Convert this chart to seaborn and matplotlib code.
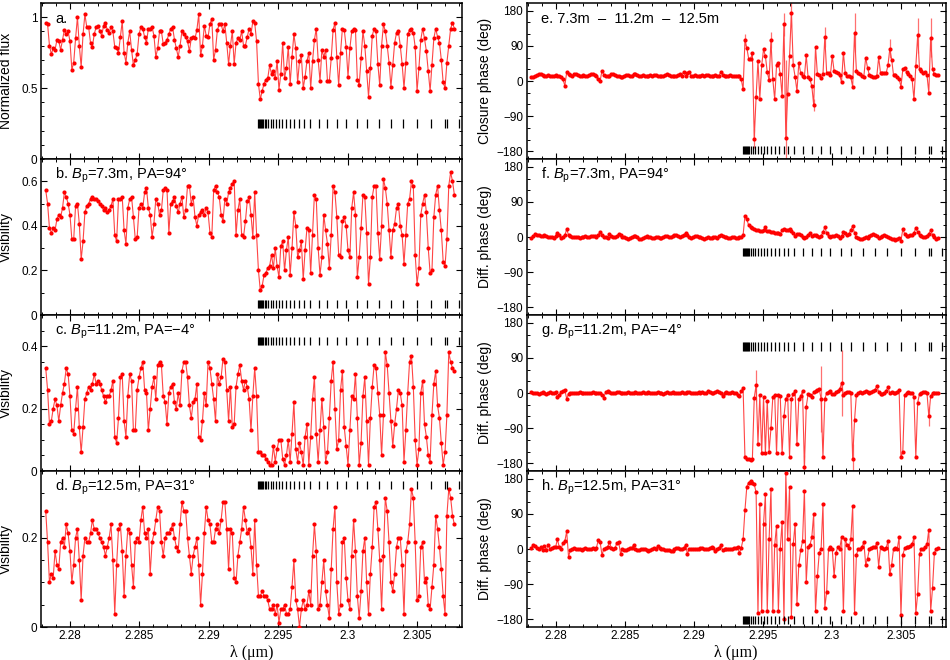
import numpy as np
import matplotlib
matplotlib.use("Agg")
import matplotlib.pyplot as plt
from matplotlib.ticker import MultipleLocator, FuncFormatter
import seaborn as sns

sns.set_theme(style="ticks", rc={"axes.edgecolor": "black", "xtick.color": "black",
                                 "ytick.color": "black", "text.color": "black",
                                 "axes.labelcolor": "black"})
plt.rcParams['font.family'] = ['Liberation Sans', 'DejaVu Sans']
plt.rcParams['mathtext.fontset'] = 'custom'
plt.rcParams['mathtext.rm'] = 'Liberation Sans'
plt.rcParams['mathtext.it'] = 'Liberation Sans:italic'

# spectral channels (um)
wl_start, wl_end, n_chan = 2.27825, 2.30769, 220

# CO (2-0) line positions marked with the black bars
co_lines = [2.29357, 2.29364, 2.29371, 2.29378, 2.29386, 2.29393, 2.29403, 2.29415,
            2.29429, 2.29446, 2.29465, 2.29484, 2.29506, 2.29530, 2.29556, 2.29585,
            2.29616, 2.29650, 2.29686, 2.29729, 2.29791, 2.29854, 2.29921, 2.29988,
            2.30065, 2.30142, 2.30224, 2.30310, 2.30401, 2.30498, 2.30599, 2.30702,
            2.30714, 2.30800]

# normalized flux (x100)
flux = [96, 95, 80, 74, 78, 77, 84, 83, 77, 84,
        91, 88, 90, 83, 63, 68, 85, 100, 80, 65,
        88, 102, 93, 93, 82, 79, 88, 93, 94, 90,
        87, 94, 96, 91, 89, 93, 90, 79, 78, 75,
        86, 97, 75, 68, 82, 90, 77, 66, 70, 74,
        88, 93, 92, 86, 82, 92, 92, 93, 87, 72,
        78, 90, 90, 81, 82, 84, 88, 92, 93, 84,
        78, 72, 80, 90, 88, 86, 83, 76, 85, 86,
        85, 91, 102, 73, 80, 94, 87, 86, 95, 99,
        70, 77, 91, 95, 95, 90, 95, 82, 67, 80,
        90, 67, 82, 85, 84, 90, 80, 80, 86, 92,
        88, 97, 96, 83, 53, 42, 48, 53, 56, 57,
        66, 60, 62, 57, 69, 49, 60, 82, 57, 64,
        79, 53, 72, 88, 78, 54, 69, 73, 50, 58,
        69, 75, 50, 69, 84, 92, 70, 55, 77, 72,
        77, 55, 55, 71, 91, 96, 72, 52, 75, 92,
        91, 79, 58, 78, 90, 92, 91, 56, 52, 71,
        90, 80, 62, 44, 64, 87, 92, 90, 67, 52,
        80, 95, 90, 80, 68, 51, 66, 82, 89, 90,
        80, 67, 50, 68, 88, 91, 92, 89, 79, 48,
        64, 84, 92, 85, 76, 62, 48, 66, 85, 92,
        86, 82, 70, 54, 50, 68, 80, 92, 96, 92]

# visibilities (x100)
vis_73 = [56, 50, 39, 37, 39, 38, 43, 45, 44, 48,
          55, 53, 50, 45, 34, 34, 49, 50, 41, 25,
          33, 46, 49, 50, 52, 53, 52, 52, 51, 50,
          49, 47, 48, 46, 47, 49, 52, 36, 33, 52,
          52, 53, 38, 32, 48, 52, 53, 44, 34, 35,
          48, 50, 48, 55, 57, 48, 45, 35, 41, 52,
          50, 45, 47, 56, 57, 56, 37, 50, 51, 53,
          49, 46, 50, 53, 44, 47, 58, 58, 50, 53,
          44, 40, 45, 46, 47, 45, 48, 46, 37, 35,
          56, 58, 55, 53, 45, 42, 52, 50, 55, 57,
          59, 60, 36, 47, 52, 36, 35, 42, 51, 53,
          45, 35, 55, 36, 20, 11, 13, 18, 19, 21,
          22, 27, 21, 30, 22, 17, 31, 33, 20, 29,
          35, 18, 30, 46, 40, 26, 29, 33, 16, 29,
          39, 38, 19, 36, 54, 52, 30, 18, 26, 45,
          38, 32, 21, 36, 58, 55, 44, 27, 26, 42,
          44, 40, 29, 26, 48, 55, 45, 17, 26, 39,
          54, 53, 37, 14, 26, 53, 58, 58, 37, 25,
          40, 61, 57, 50, 38, 26, 38, 41, 48, 50,
          40, 36, 23, 36, 50, 52, 60, 58, 27, 14,
          21, 45, 50, 54, 46, 30, 19, 20, 44, 54,
          58, 47, 38, 24, 22, 34, 58, 64, 60, 54]

vis_112 = [33, 26, 15, 16, 20, 23, 21, 16, 21, 25,
           28, 33, 31, 24, 13, 12, 20, 27, 14, 6,
           14, 23, 25, 27, 26, 28, 31, 28, 29, 28,
           26, 24, 22, 24, 24, 26, 29, 11, 9, 17,
           30, 31, 16, 11, 24, 31, 29, 13, 13, 26,
           30, 33, 35, 26, 25, 13, 20, 27, 30, 23,
           34, 35, 34, 24, 22, 15, 25, 27, 28, 22,
           20, 25, 21, 32, 35, 35, 30, 21, 17, 22,
           23, 28, 11, 10, 16, 25, 21, 35, 33, 28,
           23, 16, 31, 28, 30, 36, 35, 26, 16, 27,
           14, 15, 27, 31, 34, 29, 26, 29, 27, 23,
           13, 24, 33, 24, 6, 6, 5, 5, 4, 3,
           2, 2, 8, 3, 7, 10, 10, 4, 2, 5,
           10, 3, 12, 22, 7, 3, 9, 6, 2, 11,
           15, 2, 11, 23, 30, 12, 3, 13, 23, 14,
           3, 6, 17, 29, 35, 20, 7, 10, 26, 32,
           14, 8, 2, 13, 24, 23, 31, 17, 2, 9,
           24, 30, 16, 2, 17, 27, 34, 33, 25, 18,
           5, 18, 38, 34, 25, 16, 8, 15, 20, 26,
           25, 21, 3, 13, 25, 35, 37, 27, 10, 2,
           7, 25, 29, 15, 11, 5, 3, 18, 28, 32,
           21, 17, 9, 2, 6, 18, 38, 35, 33, 32]

vis_125 = [26, 19, 10, 12, 11, 17, 14, 13, 19, 20,
           18, 23, 21, 17, 10, 14, 20, 22, 15, 6,
           16, 20, 19, 19, 21, 24, 22, 22, 21, 20,
           19, 18, 16, 18, 20, 23, 15, 3, 14, 22,
           23, 17, 7, 16, 22, 21, 14, 9, 19, 20,
           19, 24, 27, 21, 20, 22, 12, 19, 21, 24,
           27, 26, 19, 16, 20, 21, 21, 22, 23, 20,
           18, 17, 23, 28, 26, 26, 20, 16, 12, 16,
           18, 20, 14, 5, 12, 21, 27, 24, 23, 19,
           19, 22, 23, 21, 24, 28, 28, 22, 13, 22,
           21, 11, 10, 16, 19, 22, 27, 24, 21, 22,
           18, 12, 24, 14, 7, 7, 8, 7, 7, 6,
           4, 4, 5, 3, 5, 1, 4, 4, 5, 3,
           3, 4, 9, 15, 6, 4, 0, 4, 6, 4,
           5, 8, 5, 16, 23, 17, 4, 5, 10, 15,
           8, 5, 2, 13, 22, 27, 10, 3, 5, 19,
           20, 11, 6, 4, 16, 24, 17, 7, 2, 8,
           17, 20, 10, 3, 12, 18, 27, 28, 22, 15,
           4, 16, 29, 26, 19, 10, 8, 12, 18, 20,
           20, 14, 3, 17, 19, 23, 31, 29, 19, 6,
           7, 18, 19, 10, 11, 5, 4, 9, 14, 25,
           22, 18, 13, 7, 3, 25, 31, 29, 25, 23]

# closure phase (deg)
cphase = [10, 11, 14, 15, 17, 18, 16, 14, 13, 15,
          14, 13, 14, 15, 12, 14, 10, 4, -12, 22,
          18, 15, 14, 17, 19, 16, 13, 14, 15, 14,
          13, 15, 17, 18, 16, 12, 5, 0, 26, 16,
          13, 12, 14, 17, 19, 16, 14, 13, 9, 11,
          14, 16, 15, 13, 14, 17, 18, 15, 12, 14,
          15, 13, 12, 14, 15, 14, 16, 15, 13, 14,
          12, 13, 15, 17, 15, 14, 13, 12, 14, 15,
          17, 14, 24, 12, 20, 22, 14, 13, 15, 14,
          12, 13, 15, 14, 16, 15, 13, 12, 14, 15,
          13, 14, 22, 16, 13, 12, 14, 15, 13, 14,
          13, 12, 14, 4, -21, 105, 85, 57, 57, 71,
          -148, -40, 51, -45, 40, 81, 64, 23, 2, 105,
          4, -47, 40, 47, 17, -38, 145, -145, -34, 64,
          175, 40, 11, -26, 47, 20, 13, 11, 66, 9,
          4, -13, -61, 88, 17, 15, 8, 17, 113, 21,
          21, 15, 64, 26, 23, 20, 15, -3, 73, 20,
          13, 13, 9, -15, 124, 26, 20, 17, 13, 11,
          60, 34, 15, 13, 11, 9, 13, 61, 20, 21,
          20, 20, 40, 83, 55, 15, 15, 11, 6, -15,
          30, 34, 23, 17, 13, 4, -47, 38, 117, 30,
          26, 21, 23, 15, -30, 111, 30, 17, 15, 15]
cphase_err_idx = [115, 120, 129, 136, 137, 140, 152, 158, 174, 193, 208, 215]
cphase_err = [15, 25, 20, 30, 200, 35, 15, 25, 50, 25, 45, 50]

# differential phases (deg)
dphi_73 = [-3, 2, 8, 6, 5, 3, 2, 4, 2, 1,
           0, -1, -2, 3, 11, 5, -2, 1, 4, 20,
           5, 2, 1, 0, 0, -1, -2, 0, 1, 2,
           1, 0, 2, 3, 2, 1, 4, 13, 5, 0,
           -1, -2, 8, 3, 1, 0, 2, 8, 5, 1,
           -1, -3, -4, -2, 0, 2, 3, -1, -4, -5,
           -3, 0, 2, 1, -1, -3, -2, 1, 0, -2,
           -3, -1, 2, 3, 1, 0, 3, 5, 6, 2,
           0, 3, 5, 9, 4, 0, -2, 0, 2, 3,
           1, -1, -3, -4, -2, 0, -3, -2, 1, 0,
           -2, 3, 6, 2, 0, -1, -3, -2, 0, -1,
           -3, -2, -1, 0, 5, 55, 45, 30, 25, 22,
           20, 18, 17, 15, 16, 17, 25, 15, 15, 13,
           12, 11, 10, 9, 8, 18, 20, 19, 18, 20,
           15, 10, 2, 8, 8, 4, 0, -2, 1, 5,
           10, 3, 4, 5, 2, 0, 3, 12, 25, 10,
           3, 0, 2, 3, 5, 2, -2, 2, 12, 10,
           5, 8, 18, 28, 10, 0, -3, -5, -4, -3,
           0, -2, 2, 5, 8, 6, 3, -2, 0, 3,
           5, 3, 0, -3, -5, -6, -8, -5, -3, -10,
           20, 8, 2, 3, 5, 6, 10, 24, 12, 5,
           2, 0, 1, 3, 8, 17, 5, 0, -5, -3]

dphi_112 = [2, -1, 0, 1, -2, 0, 2, -1, -3, 0,
            2, 1, -1, 3, -10, -5, 3, 5, 8, -15,
            -2, 0, 1, 0, -1, 1, 2, 0, 1, 0,
            -1, 0, 1, 2, 0, -1, 1, 0, -5, -12,
            3, 5, 2, 0, 1, -1, 2, 3, 1, 0,
            -1, 0, 2, 1, 0, 1, 3, 0, -1, 1,
            2, 0, 1, 3, 1, 0, -1, 0, 2, 1,
            0, -3, 1, 2, 0, 1, 3, 1, 0, -1,
            1, 2, 0, 1, 3, 2, 0, -1, 1, 0,
            2, 1, 3, 0, 1, 4, 2, 1, 0, 2,
            5, 3, 0, -8, 1, 2, 0, 1, 3, 1,
            0, -5, -8, 5, 12, -165, -168, -170, -172, -168,
            -12, 20, -130, -5, -155, -10, -155, -20, -150, -90,
            -10, -5, -155, -5, -8, -155, -60, -15, -5, -165,
            -15, -2, 5, -130, -15, -8, 5, -190, -35, -3,
            -5, -10, 3, 5, 8, 10, -15, -165, -15, 0,
            3, 5, -3, -3, 2, 5, 10, 25, -5, 0,
            3, 2, 0, -170, -70, -5, 0, 2, 1, 3,
            5, 3, 0, 2, 5, 8, 18, 3, -2, -3,
            0, 5, 15, 0, 2, 1, 0, 3, 8, -165,
            -150, -5, 0, 2, 1, 0, -10, -165, -25, -2,
            0, 2, 3, 1, -60, -8, 0, 1, 0, 0]
dphi_112_err_idx = [121, 147, 156, 167, 173, 214]
dphi_112_err = [40, 30, 85, 85, 40, 25]

dphi_125 = [3, 10, 8, 3, 0, 5, -3, 8, -3, 10,
            0, 3, 5, 4, 25, 5, 0, 15, 20, 45,
            -20, -3, 0, 2, -1, 0, 1, -2, 0, 2,
            1, 0, -1, 2, 0, 3, 22, 18, -15, 0,
            3, 5, 18, 3, 0, 2, 15, 18, -12, 0,
            -2, -3, 0, 2, 3, 10, 0, -2, -3, -1,
            0, 1, -2, -5, -3, 0, 2, 0, 8, 2,
            0, -1, -3, -2, -3, -5, -4, 0, 3, 2,
            1, 0, 3, 10, -12, 0, -1, 0, 1, 0,
            -1, 2, 3, 1, 0, -1, 2, 5, 2, -5,
            0, 3, 10, -3, -1, 0, 1, -1, 0, 2,
            3, 5, -10, 3, 25, 100, 160, 170, 175, 168,
            166, 145, -165, 115, -160, 65, 140, -160, 25, 155,
            -160, 10, 60, -160, 0, 70, -180, 195, 25, 160,
            -175, 12, 65, -140, -40, -3, 20, 150, -85, 5,
            10, 30, 90, -160, -70, -10, 0, 115, -150, -110,
            0, 5, 0, -70, -10, 5, 0, 30, -160, 25,
            10, 3, 25, 110, -165, -15, 0, 0, 5, 18,
            -40, -25, 0, 3, 5, 5, 15, -45, 5, 3,
            0, 2, 20, -65, -40, 0, 2, 0, 30, -170,
            -15, 2, 5, 5, 8, 12, 30, -165, -115, -12,
            0, 0, 5, 12, 50, -160, -100, -10, 0, 3]

wl = np.linspace(wl_start, wl_end, n_chan)

# (values, scale, ylim, major, minor, ylabel, panel text, CO bar range)
left_panels = [
    (flux, 100, (0, 1.1), 0.5, 0.1, "Normalized flux", "a.", (0.22, 0.28)),
    (vis_73, 100, (0, 0.7), 0.2, 0.1, "Visibility",
     "b. $B_\\mathrm{p}$=7.3m, PA=94°", (0.03, 0.068)),
    (vis_112, 100, (0, 0.5), 0.2, 0.05, "Visibility",
     "c. $B_\\mathrm{p}$=11.2m, PA=\u22124°", (0.405, 0.43)),
    (vis_125, 100, (0, 0.35), 0.2, 0.05, "Visibility",
     "d. $B_\\mathrm{p}$=12.5m, PA=31°", (0.309, 0.328)),
]
right_panels = [
    (cphase, 1, (-200, 200), 90, 30, "Closure phase (deg)",
     "e. 7.3m  \u2013  11.2m  \u2013  12.5m", (-187, -166)),
    (dphi_73, 1, (-200, 200), 90, 30, "Diff. phase (deg)",
     "f. $B_\\mathrm{p}$=7.3m, PA=94°", (-48, -29)),
    (dphi_112, 1, (-200, 200), 90, 30, "Diff. phase (deg)",
     "g. $B_\\mathrm{p}$=11.2m, PA=\u22124°", (108, 130)),
    (dphi_125, 1, (-200, 200), 90, 30, "Diff. phase (deg)",
     "h. $B_\\mathrm{p}$=12.5m, PA=31°", (-192, -173)),
]
errbars = {0: (cphase_err_idx, cphase_err), 2: (dphi_112_err_idx, dphi_112_err)}


def tick_fmt(v, pos):
    return ('%g' % round(v, 6)).replace('-', '\u2212')


fig = plt.figure(figsize=(9.5, 6.6), dpi=100)
W, H = 950.0, 660.0
row_tops = [3, 159, 315, 471]
row_h = 156

for col, (panels, x0, width, lab_x) in enumerate([(left_panels, 41, 421, -0.066),
                                                   (right_panels, 526.7, 419, -0.083)]):
    for row, (vals, scale, ylim, major, minor, ylabel, label, co_rng) in enumerate(panels):
        ax = fig.add_axes([x0 / W, 1 - (row_tops[row] + row_h) / H, width / W, row_h / H])
        y = np.array(vals, dtype=float) / scale

        if col == 1 and row in errbars:
            idx, err = errbars[row]
            ax.errorbar(wl[idx], y[idx], yerr=err, fmt='none', ecolor='#ff7070',
                        elinewidth=0.9, capsize=0, zorder=1)
        sns.lineplot(x=wl, y=y, ax=ax, color='#ff4545', linewidth=0.8,
                     estimator=None, sort=False, zorder=2)
        sns.scatterplot(x=wl, y=y, ax=ax, color='#ff0000', s=9, linewidth=0, zorder=3)
        ax.vlines(co_lines, co_rng[0], co_rng[1], color='black', linewidth=0.9, zorder=4)

        ax.set_xlim(2.27791, 2.30824)
        ax.set_ylim(*ylim)
        ax.xaxis.set_major_locator(MultipleLocator(0.005))
        ax.xaxis.set_minor_locator(MultipleLocator(0.001))
        ax.yaxis.set_major_locator(MultipleLocator(major))
        ax.yaxis.set_minor_locator(MultipleLocator(minor))
        ax.yaxis.set_major_formatter(FuncFormatter(tick_fmt))
        ax.xaxis.set_major_formatter(FuncFormatter(tick_fmt))
        ax.tick_params(which='both', direction='in', top=True, right=True, labelsize=8.5,
                       pad=2.5)
        ax.tick_params(which='major', length=4.5, width=0.8)
        ax.tick_params(which='minor', length=2.5, width=0.7)
        for sp in ax.spines.values():
            sp.set_linewidth(1.1)
            sp.set_color('black')

        ax.set_ylabel(ylabel, fontsize=10)
        ax.yaxis.set_label_coords(lab_x, 0.5)
        if row == 3:
            ax.set_xlabel('λ (μm)', fontsize=11.5, family=['Liberation Serif', 'DejaVu Serif'],
                          labelpad=2)
        else:
            ax.set_xlabel('')
            ax.tick_params(labelbottom=False)
        ax.text(0.033, 0.895, label, transform=ax.transAxes, fontsize=10.5,
                ha='left', va='center')

fig.savefig('out.png', dpi=100)
